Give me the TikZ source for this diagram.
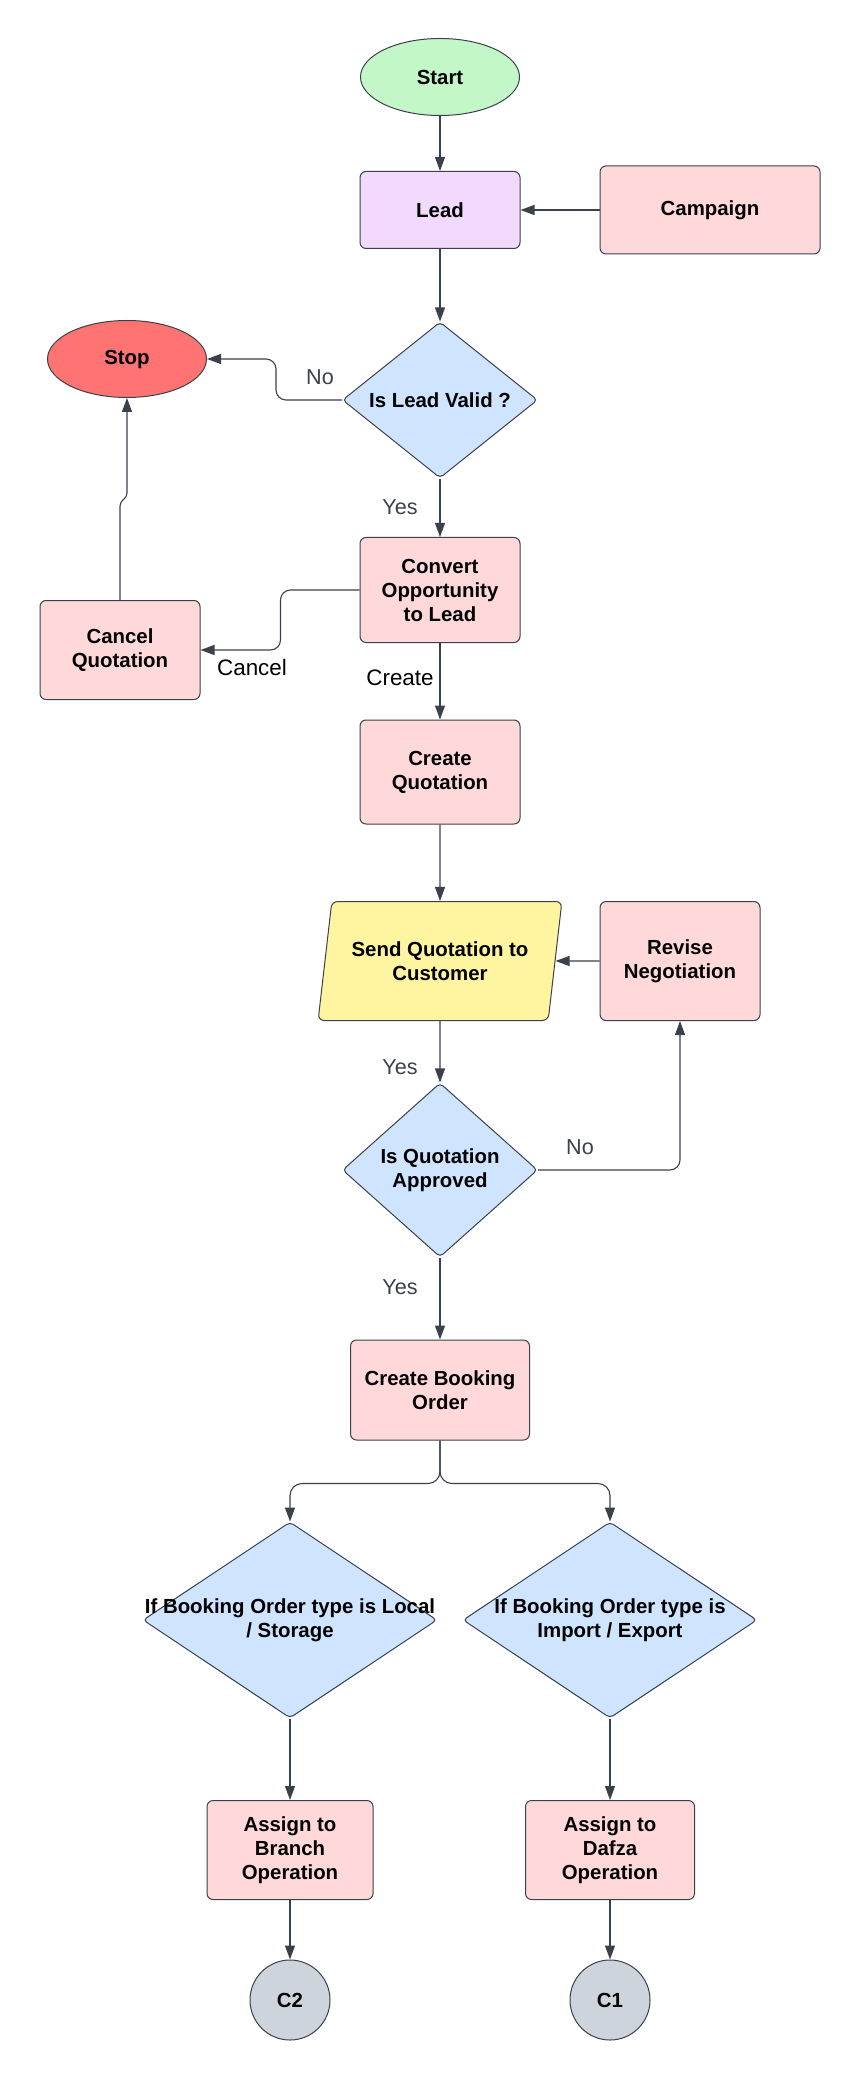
\documentclass[tikz,border=0pt]{standalone}
\usepackage{fontspec}
\setmainfont{Liberation Sans}
\usetikzlibrary{shapes.geometric,arrows.meta}
\definecolor{lineclr}{HTML}{3A414A}
\definecolor{greenfill}{HTML}{C3F7C8}
\definecolor{purplefill}{HTML}{F2D9FE}
\definecolor{pinkfill}{HTML}{FFD8DA}
\definecolor{redfill}{HTML}{FF7373}
\definecolor{bluefill}{HTML}{CFE4FF}
\definecolor{yellowfill}{HTML}{FFF5A1}
\definecolor{grayfill}{HTML}{CED4DB}
\newcommand{\boxfont}{\fontsize{10.2}{12}\selectfont\bfseries}
\newcommand{\lblfont}{\fontsize{10.8}{13}\selectfont}
\newcommand{\biglblfont}{\fontsize{11.2}{13}\selectfont}

\begin{document}
\begin{tikzpicture}[x=0.5pt,y=-0.5pt,
  shape base/.style={draw=lineclr, line width=0.5pt, align=center, font=\boxfont, inner sep=2pt},
  box/.style={shape base, rectangle, rounded corners=3pt, fill=pinkfill, minimum width=80pt},
  term/.style={shape base, ellipse, minimum width=79.5pt, minimum height=38.5pt},
  decision/.style={shape base, diamond, rounded corners=2pt, fill=bluefill, inner sep=0pt},
  iobox/.style={shape base, trapezium, trapezium left angle=76, trapezium right angle=104,
    trapezium stretches=true, rounded corners=3pt, fill=yellowfill},
  conn/.style={shape base, circle, fill=grayfill, minimum size=40pt, inner sep=0pt},
  arr/.style={draw=lineclr, line width=0.55pt, -{Triangle[length=7pt,width=5pt]}},
  lbl/.style={text=lineclr, font=\lblfont, inner sep=0pt},
  biglbl/.style={text=black, font=\biglblfont, inner sep=0pt}
]
  \useasboundingbox (0,0) rectangle (860,2080);

  \node[term, fill=greenfill] (start) at (440,77) {Start};
  \node[box, fill=purplefill, minimum height=38.5pt] (lead) at (440,210) {Lead};
  \node[box, minimum width=110pt, minimum height=44pt] (campaign) at (710,210) {Campaign};
  \node[term, fill=redfill] (stop) at (127,359) {Stop};
  \node[decision, minimum width=97.5pt, minimum height=78pt] (valid) at (440,400) {};
  \node[font=\boxfont] (validtxt) at (valid) {Is Lead Valid ?};
  \node[box, minimum height=52.5pt] (convert) at (440,590) {Convert\\Opportunity\\to Lead};
  \node[box, minimum height=49.5pt] (cancel) at (120,650) {Cancel\\Quotation};
  \node[box, minimum height=52pt] (createq) at (440,772) {Create\\Quotation};
  \node[iobox, minimum width=122pt, minimum height=59.5pt] (send) at (440,961) {Send Quotation to\\Customer};
  \node[box, minimum height=59.5pt] (revise) at (680,961) {Revise\\Negotiation};
  \node[decision, minimum width=97.5pt, minimum height=87pt] (approved) at (440,1170) {};
  \node[font=\boxfont, align=center] (approvedtxt) at (approved) {Is Quotation\\Approved};
  \node[box, minimum width=89.5pt, minimum height=50pt] (booking) at (440,1390) {Create Booking\\Order};
  \node[decision, minimum width=147pt, minimum height=98pt] (local) at (290,1620) {};
  \node[font=\boxfont, align=center] (localtxt) at (290,1620) {If Booking Order type is Local\\/ Storage};
  \node[decision, minimum width=147pt, minimum height=98pt] (import) at (610,1620) {};
  \node[font=\boxfont, align=center] (importtxt) at (610,1620) {If Booking Order type is\\Import / Export};
  \node[box, minimum width=83pt, minimum height=49.5pt] (branch) at (290,1850) {Assign to\\Branch\\Operation};
  \node[box, minimum width=84.5pt, minimum height=49.5pt] (dafza) at (610,1850) {Assign to\\Dafza\\Operation};
  \node[conn] (c2) at (290,2000) {C2};
  \node[conn] (c1) at (610,2000) {C1};

  \draw[arr] (start) -- (lead);
  \draw[arr] (campaign) -- (lead);
  \draw[arr] (lead) -- (valid);
  \draw[arr, rounded corners=5pt] (valid.west) -- ++(-66,0) |- (stop.east);
  \node[lbl] (nolead) at (320,377) {No};
  \draw[arr] (valid) -- (convert);
  \node[lbl] (yeslead) at (400,507) {Yes};
  \draw[arr, rounded corners=5pt] (convert.west) -- ++(-79,0) |- (cancel.east);
  \node[biglbl] (cancellbl) at (252,667) {Cancel};
  \draw[arr, rounded corners=2pt] (cancel.north) -- ++(0,-98) -- ++(7,-5) -- (stop.south);
  \draw[arr] (convert) -- (createq);
  \node[biglbl] (createlbl) at (400,678) {Create};
  \draw[arr] (createq) -- (send);
  \draw[arr] (revise) -- (send.east);
  \draw[arr] (send) -- (approved);
  \node[lbl] (yessend) at (400,1067) {Yes};
  \draw[arr, rounded corners=5pt] (approved.east) -| (revise.south);
  \node[lbl] (noquote) at (580,1147) {No};
  \draw[arr] (approved) -- (booking);
  \node[lbl] (yesquote) at (400,1287) {Yes};
  \draw[arr, rounded corners=6pt] (booking.south) -- ++(0,43) -| (local.north);
  \draw[arr, rounded corners=6pt] (booking.south) -- ++(0,43) -| (import.north);
  \draw[arr] (local) -- (branch);
  \draw[arr] (import) -- (dafza);
  \draw[arr] (branch) -- (c2);
  \draw[arr] (dafza) -- (c1);
\end{tikzpicture}
\end{document}
